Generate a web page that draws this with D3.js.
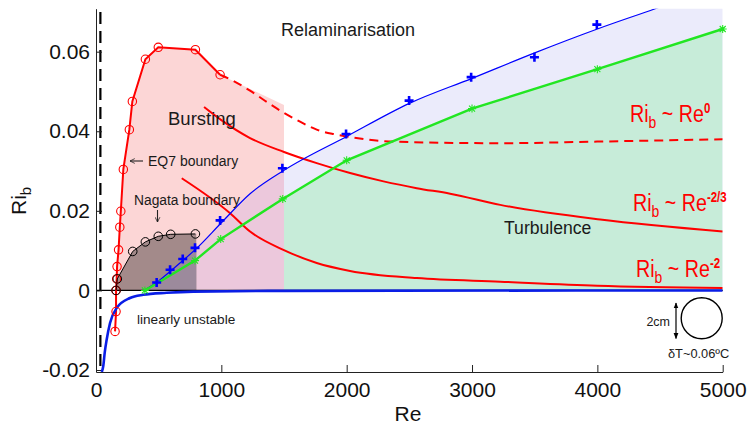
<!DOCTYPE html>
<html>
<head>
<meta charset="utf-8">
<script src="https://cdn.jsdelivr.net/npm/d3@7"></script>
<style>
  body { margin: 0; background: #fff; }
  text { font-family: "Liberation Sans", Arial, sans-serif; }
</style>
</head>
<body>
<svg id="chart" width="748" height="425"></svg>
<script>
// ---- data (Re, Ri_b) ----
const xTicks = [0, 1000, 2000, 3000, 4000, 5000];
const yTicks = [-0.02, 0, 0.02, 0.04, 0.06];

// EQ7 boundary (measured points, solid part)
const eq7Re = [152, 160, 160, 165, 168, 180, 190, 198, 218, 266, 290, 394, 497, 793, 990];
const eq7Ri = [-0.0103, -0.0053, 0, 0.0029, 0.0060, 0.0102, 0.0159, 0.0199, 0.0304, 0.0404, 0.0475, 0.0581, 0.0611, 0.0605, 0.0542];
// Bursting region right edge
const burstEdgeRe = 1500;
const burstEdgeRi = 0.0466;
// EQ7 extrapolation (Ri ~ Re^0), dashed
const eq7DashRe = [990, 1094, 1229, 1389, 1495, 1628, 1761, 1894, 2000, 2370, 3225, 4000, 5000];
const eq7DashRi = [0.0542, 0.0527, 0.0502, 0.0468, 0.0447, 0.0424, 0.0404, 0.0393, 0.0387, 0.0374, 0.0370, 0.0374, 0.0380];

// Nagata boundary
const nagataRe = [160, 170, 293, 394, 497, 596, 793];
const nagataRi = [0, 0.0029, 0.0098, 0.0122, 0.0136, 0.0141, 0.0142];
const nagataEndRe = 800;

// Relaminarisation boundary: measured points (+) and fitted curve
const relamRe = [484, 591, 692, 790, 990, 1487, 1995, 2498, 2993, 3498, 3996];
const relamRi = [0.0020, 0.0052, 0.0079, 0.0107, 0.0176, 0.0307, 0.0393, 0.0477, 0.0536, 0.0586, 0.0668];
const relamFitRe = [380, 500, 600, 700, 800, 1000, 1229, 1500, 2000, 2500, 3000, 3500, 4000, 4461, 5000];
const relamFitRi = [0, 0.0024, 0.0050, 0.0077, 0.0105, 0.0170, 0.0243, 0.0302, 0.0387, 0.0470, 0.0533, 0.0597, 0.0657, 0.0708, 0.0770];

// Turbulence boundary (*)
const turbRe = [390, 790, 995, 1490, 2000, 3000, 4000, 5000];
const turbRi = [0, 0.0075, 0.0129, 0.0230, 0.0327, 0.0457, 0.0556, 0.0657];

// Linear instability boundary
const linRe = [46, 58, 70, 85, 112, 165, 271, 377, 564, 776, 1500, 5000];
const linRi = [-0.0205, -0.0190, -0.0155, -0.0124, -0.0082, -0.0044, -0.0019, -0.0011, -0.0006, -0.0003, -0.0001, 0];

// Scaling curves
const scaleM23Re = [862, 1000, 1229, 1500, 1761, 2027, 2294, 2559, 2825, 3225, 4023, 5000];
const scaleM23Ri = [0.0461, 0.0428, 0.0383, 0.0348, 0.0320, 0.0295, 0.0274, 0.0257, 0.0243, 0.0215, 0.0178, 0.0148];
const scaleM2Re = [684, 1070, 1229, 1495, 1761, 2027, 2559, 3225, 4000, 5000];
const scaleM2Ri = [0.0282, 0.0194, 0.0148, 0.0102, 0.0069, 0.0049, 0.0031, 0.0022, 0.0012, 0.0006];
const scalingExponents = ["0", "-2/3", "-2"];

// Dashed vertical reference line
const refLineRe = 35;

// ---- setup ----
const svg = d3.select("#chart");
const x = d3.scaleLinear().domain([0, 5000]).range([96, 722.7]);
const y = d3.scaleLinear().domain([-0.0205, 0.0708]).range([372, 8.7]);
const pts = (re, ri) => re.map((r, i) => ({ re: r, ri: ri[i] }));

const defs = svg.append("defs");
function clipRect(id, x0, x1) {
  defs.append("clipPath").attr("id", id).append("rect")
    .attr("x", x0).attr("y", y.range()[1]).attr("width", x1 - x0).attr("height", y.range()[0] - y.range()[1]);
}
clipRect("plot", x(0), x(5000));
clipRect("left1500", x(0), x(burstEdgeRe));
clipRect("right1500", x(burstEdgeRe), x(5000));
clipRect("left800", x(0), x(nagataEndRe));

defs.append("marker").attr("id", "ah").attr("viewBox", "0 0 10 10").attr("refX", 9).attr("refY", 5)
  .attr("markerWidth", 6).attr("markerHeight", 6).attr("markerUnits", "userSpaceOnUse").attr("orient", "auto-start-reverse")
  .append("path").attr("d", "M0,1L10,5L0,9Z").attr("fill", "#000");
defs.append("marker").attr("id", "ahOpen").attr("viewBox", "0 0 10 10").attr("refX", 9).attr("refY", 5)
  .attr("markerWidth", 6).attr("markerHeight", 6).attr("markerUnits", "userSpaceOnUse").attr("orient", "auto")
  .append("path").attr("d", "M1,1L9,5L1,9").attr("fill", "none").attr("stroke", "#222").attr("stroke-width", 1.3);

const lineLin = d3.line().x(d => x(d.re)).y(d => y(d.ri));
const lineSmooth = d3.line().x(d => x(d.re)).y(d => y(d.ri)).curve(d3.curveMonotoneX);
const areaSmooth = d3.area().x(d => x(d.re)).y0(y(0)).y1(d => y(d.ri)).curve(d3.curveMonotoneX);
const areaLin = d3.area().x(d => x(d.re)).y0(y(0)).y1(d => y(d.ri));

const relamFit = pts(relamFitRe, relamFitRi);
const turb = pts(turbRe, turbRi);
const eq7 = pts(eq7Re, eq7Ri);
const nag = pts(nagataRe, nagataRi);

// ---- shaded regions ----
const fills = svg.append("g").attr("clip-path", "url(#plot)");
fills.append("path").attr("d", areaSmooth(relamFit)).attr("fill", "#ebebfb");
fills.append("path").attr("d", areaLin(turb)).attr("fill", "#c7ecd9").attr("clip-path", "url(#right1500)");
// bursting region under EQ7 boundary
const burstPoly = eq7.filter(d => d.ri >= 0).concat([{ re: burstEdgeRe, ri: burstEdgeRi }, { re: burstEdgeRe, ri: 0 }]);
fills.append("path").attr("d", lineLin(burstPoly) + "Z").attr("fill", "#fcd6d6");
fills.append("path").attr("d", areaSmooth(relamFit)).attr("fill", "#ecc8dc").attr("clip-path", "url(#left1500)");
// Nagata region
fills.append("path").attr("d", lineLin(nag.concat([{ re: nagataEndRe, ri: nagataRi[nagataRi.length - 1] }, { re: nagataEndRe, ri: 0 }])) + "Z")
  .attr("fill", "#a38a8a");
fills.append("path").attr("d", areaSmooth(relamFit)).attr("fill", "#9c8a9c").attr("clip-path", "url(#left800)");

// ---- reference lines ----
svg.append("line").attr("x1", x(0)).attr("x2", x(5000)).attr("y1", y(0)).attr("y2", y(0))
  .attr("stroke", "#000").attr("stroke-width", 1.3);
svg.append("line").attr("x1", x(refLineRe)).attr("x2", x(refLineRe)).attr("y1", 12).attr("y2", 372)
  .attr("stroke", "#000").attr("stroke-width", 2.2).attr("stroke-dasharray", "12,7");

// ---- axes ----
const fmt = d => d === 0 ? "0" : d.toFixed(2);
const yAxis = svg.append("g").attr("transform", `translate(${x(0)},0)`)
  .call(d3.axisLeft(y).tickValues(yTicks).tickFormat(fmt).tickSize(-6).tickSizeOuter(0).tickPadding(6));
const xAxis = svg.append("g").attr("transform", `translate(0,${y.range()[0]})`)
  .call(d3.axisBottom(x).tickValues(xTicks).tickFormat(d3.format("d")).tickSize(-7).tickSizeOuter(0).tickPadding(10));
[yAxis, xAxis].forEach(a => {
  a.selectAll("path,line").attr("stroke", "#222").attr("stroke-width", 1);
  a.selectAll("text").attr("font-size", 21).attr("fill", "#111").attr("font-family", "Liberation Sans, Arial, sans-serif");
});

// ---- curves ----
const curves = svg.append("g").attr("clip-path", "url(#plot)").attr("fill", "none");
curves.append("path").attr("d", lineSmooth(pts(scaleM2Re, scaleM2Ri))).attr("stroke", "#f00").attr("stroke-width", 2);
curves.append("path").attr("d", lineSmooth(pts(scaleM23Re, scaleM23Ri))).attr("stroke", "#f00").attr("stroke-width", 2);
curves.append("path").attr("d", lineSmooth(pts(eq7DashRe, eq7DashRi))).attr("stroke", "#f00").attr("stroke-width", 2)
  .attr("stroke-dasharray", "9,6");
curves.append("path").attr("d", lineLin(eq7)).attr("stroke", "#f00").attr("stroke-width", 2);
curves.append("path").attr("d", lineLin(nag)).attr("stroke", "#000").attr("stroke-width", 1);
curves.append("path").attr("d", lineSmooth(relamFit)).attr("stroke", "#0000ff").attr("stroke-width", 1.2);
curves.append("path").attr("d", lineLin(turb)).attr("stroke", "#22e622").attr("stroke-width", 2.4);
curves.append("path").attr("d", lineSmooth(pts(linRe, linRi))).attr("stroke", "#0a1ee6").attr("stroke-width", 2.6);

// ---- markers ----
const marks = svg.append("g").attr("fill", "none");
marks.selectAll(".eq7").data(eq7).join("circle")
  .attr("cx", d => x(d.re)).attr("cy", d => y(d.ri)).attr("r", 4.2)
  .attr("stroke", "#f00").attr("stroke-width", 1.1);
marks.selectAll(".nag").data(nag).join("circle")
  .attr("cx", d => x(d.re)).attr("cy", d => y(d.ri)).attr("r", 4.3)
  .attr("stroke", "#000").attr("stroke-width", 1);
marks.selectAll(".relam").data(pts(relamRe, relamRi)).join("path")
  .attr("transform", d => `translate(${x(d.re)},${y(d.ri)})`)
  .attr("d", "M-4.5,0H4.5M0,-4.5V4.5").attr("stroke", "#0000ff").attr("stroke-width", 2.6);
marks.selectAll(".turb").data(turb).join("path")
  .attr("transform", d => `translate(${x(d.re)},${y(d.ri)})`)
  .attr("d", "M-4,0H4M0,-4V4M-3,-3L3,3M-3,3L3,-3").attr("stroke", "#22e622").attr("stroke-width", 1.1);

// ---- annotations ----
const txt = (s, xp, yp, size, opts = {}) => svg.append("text").attr("x", xp).attr("y", yp)
  .attr("font-size", size).attr("fill", opts.fill || "#1a1a1a").attr("text-anchor", opts.anchor || "start").text(s);

txt("Relaminarisation", 281, 36, 18);
txt("Bursting", 168, 125, 18.5);
txt("EQ7 boundary", 148, 166, 14);
svg.append("line").attr("x1", 143).attr("x2", 130).attr("y1", 161).attr("y2", 161)
  .attr("stroke", "#222").attr("stroke-width", 1.1).attr("marker-end", "url(#ahOpen)");
txt("Nagata boundary", 134, 205, 13.8);
svg.append("line").attr("x1", 157.5).attr("x2", 157.5).attr("y1", 210).attr("y2", 222)
  .attr("stroke", "#222").attr("stroke-width", 1.1).attr("marker-end", "url(#ahOpen)");
txt("linearly unstable", 137, 324, 13.6);
txt("Turbulence", 504, 234, 17.6);

// Ri_b ~ Re^n labels, set in a narrow (horizontally condensed) face
function scalingLabel(left, baseline, exp) {
  const g = svg.append("g").attr("transform", `translate(${left},${baseline}) scale(0.82,1)`);
  const t = g.append("text").attr("fill", "#f00")
    .attr("font-family", "Lato, 'Open Sans', sans-serif").attr("font-size", 24);
  t.append("tspan").text("Ri");
  t.append("tspan").attr("dy", 6).attr("font-size", 17).text("b");
  t.append("tspan").attr("dy", -6).text(" ~ Re");
  t.append("tspan").attr("dy", -9).attr("font-size", 14).attr("font-weight", "bold").text(exp);
}
scalingLabel(630, 122, scalingExponents[0]);
scalingLabel(633, 211, scalingExponents[1]);
scalingLabel(636, 277, scalingExponents[2]);

// axis titles
const yl = svg.append("text").attr("transform", "translate(26,215) rotate(-90)").attr("font-size", 21).attr("fill", "#111");
yl.append("tspan").text("Ri");
yl.append("tspan").attr("dy", 5).attr("font-size", 15).text("b");
txt("Re", 408, 421, 21, { anchor: "middle", fill: "#111" });

// scale inset: 2 cm circle
svg.append("circle").attr("cx", 701.7).attr("cy", 318.3).attr("r", 20.5)
  .attr("fill", "none").attr("stroke", "#000").attr("stroke-width", 1.4);
svg.append("line").attr("x1", 676).attr("x2", 676).attr("y1", 303).attr("y2", 338.5)
  .attr("stroke", "#000").attr("stroke-width", 1.2)
  .attr("marker-start", "url(#ah)").attr("marker-end", "url(#ah)");
txt("2cm", 670, 326, 12.5, { anchor: "end" });
txt("\u03B4T~0.06\u00BAC", 668, 358, 12.8);
</script>
</body>
</html>
